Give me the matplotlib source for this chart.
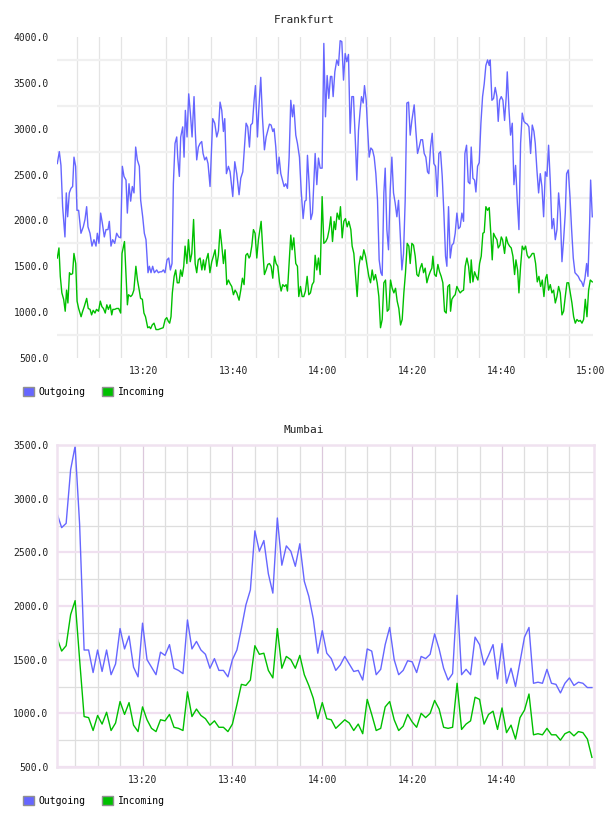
import numpy as np
import matplotlib
matplotlib.use("Agg")
import matplotlib.pyplot as plt
from matplotlib.patches import Patch

# times are minutes after 13:00
fra_out_t = [0.68, 1.13, 1.50, 1.87, 2.39, 2.69, 2.99, 3.36, 3.74, 4.11, 4.41, 4.78, 5.08, 5.45, 5.97,
             6.49, 6.87, 7.24, 7.54, 7.99, 8.43, 8.88, 9.33, 9.63, 10.00, 10.37, 10.75, 11.19, 11.57,
             12.01, 12.31, 12.68, 13.06, 13.51, 13.95, 14.40, 14.85, 15.22, 15.59, 16.04, 16.34, 16.71,
             17.08, 17.45, 17.83, 18.20, 18.57, 19.02, 19.32, 19.77, 20.14, 20.51, 20.96, 21.26, 21.63,
             22.00, 22.38, 22.90, 23.27, 23.65, 24.02, 24.39, 24.76, 25.21, 25.59, 25.96, 26.33, 26.63,
             27.00, 27.38, 27.60, 27.97, 28.27, 28.72, 29.02, 29.31, 29.69, 30.06, 30.43, 30.81, 31.25,
             31.55, 31.85, 32.22, 32.60, 32.97, 33.27, 33.64, 34.01, 34.38, 34.83,
             35.43, 35.88, 36.33, 36.70, 37.07, 37.45, 37.82, 38.12, 38.49, 38.94, 39.31, 39.91, 40.36,
             40.80, 41.32, 41.70, 42.15, 42.52, 42.89, 43.26, 43.64, 43.93, 44.31, 44.68, 44.98, 45.43,
             45.72, 46.17, 46.54, 46.99, 47.37, 47.74, 48.11, 48.48, 48.86, 49.15, 49.53, 49.90, 50.27,
             50.65, 51.02, 51.39, 51.76, 52.14, 52.51, 52.88, 53.26, 53.55, 54.00, 54.37, 54.82, 55.20,
             55.64, 56.02, 56.31, 56.61, 56.98, 57.36, 57.73, 58.03, 58.33, 58.70, 59.07, 59.45, 59.89,
             60.27, 60.64, 61.01, 61.38, 61.76, 62.06, 62.35, 62.73, 63.17, 63.55, 63.92, 64.29, 64.67,
             65.04, 65.41, 65.78, 66.16, 66.53, 66.90, 67.28, 67.65, 68.02, 68.39, 68.69, 69.07, 69.36,
             69.74, 70.03, 70.41, 70.78, 71.15, 71.53, 71.90, 72.27, 72.64, 73.02, 73.32, 73.69, 73.99,
             74.36, 74.73, 75.11, 75.48, 75.85, 76.22, 76.60, 76.97, 77.34, 77.72, 78.09, 78.46, 78.83,
             79.21, 79.58,
             79.95, 80.47, 80.84, 81.22, 81.59, 81.96, 82.34, 82.71, 83.08, 83.45, 83.75, 84.13, 84.50,
             84.87, 85.24, 85.62, 85.99, 86.36, 86.74, 87.11, 87.48, 87.78, 88.15, 88.53, 88.90, 89.27,
             89.64, 90.02, 90.39, 90.76, 91.14, 91.51, 91.81, 92.18, 92.55, 92.93, 93.22, 93.60, 93.97,
             94.27, 94.64, 95.01, 95.39, 95.76, 96.13, 96.50, 96.88, 97.25, 97.47, 97.85, 98.22, 98.59,
             98.97, 99.26, 99.56, 99.94, 100.31, 100.68, 101.05, 101.28, 101.65, 102.02, 102.40, 102.77,
             103.14, 103.52, 103.89, 104.26, 104.63, 105.01, 105.38, 105.75, 106.12, 106.50, 106.87,
             107.24, 107.54, 107.91, 108.29, 108.66, 109.03, 109.41, 109.78, 110.15, 110.52, 110.90,
             111.27, 111.64, 112.02, 112.39, 112.76, 113.13, 113.51, 113.88, 114.25, 114.55, 114.92,
             115.30, 115.67, 116.04, 116.42, 116.79, 117.16, 117.53, 117.91, 118.28, 118.65, 119.03,
             119.32, 119.70, 119.92, 120.29]
fra_out = [2620, 2750, 2600, 2150, 1820, 2300, 2040, 2300, 2350, 2370, 2690, 2590, 2110, 2110, 1860,
           1930, 2010, 2150, 1930, 1860, 1720, 1790, 1720, 1860, 1750, 2080, 1970, 1820, 1900,
           1900, 1990, 1720, 1790, 1750, 1860, 1820, 1810, 2590, 2480, 2440, 2080, 2400,
           2210, 2370, 2300, 2800, 2660, 2590, 2220, 2040, 1860, 1790, 1430, 1500, 1430,
           1500, 1430, 1460, 1430, 1440, 1440, 1460, 1430, 1570, 1590, 1460, 1530, 2400,
           2840, 2910, 2690, 2480, 2910, 3020, 2690, 3200, 2910, 3380, 3170, 2910, 3350,
           2950, 2660, 2800, 2840, 2860, 2730, 2660, 2690, 2620, 2370,
           3110, 3060, 2910, 2980, 3290, 3200, 2970, 3110, 2510, 2590, 2530, 2260, 2640,
           2510, 2280, 2460, 2530, 2800, 3060, 3020, 2800, 3040, 3060, 3310, 3470, 2910,
           3200, 3560, 3130, 2770, 2910, 2980, 3050, 3040, 2970, 3000, 2800, 2510, 2690,
           2510, 2440, 2370, 2400, 2350, 2690, 3310, 3130, 3260, 2930, 2840, 2690, 2330,
           2020, 2210, 2220, 2710, 2400, 2010, 2080, 2400, 2730, 2390, 2680, 2570, 2570,
           3930, 3130, 3580, 3330, 3570, 3570, 3350, 3620, 3750, 3690, 3960, 3950, 3530,
           3820, 3730, 3810, 2950, 3350, 3350, 2910, 2440, 2980, 3200, 3350, 3280, 3470,
           3310, 3020, 2690, 2790, 2770, 2690, 2510, 2220, 1570, 1430, 1400, 2300, 2570,
           1900, 1680, 2330, 2690, 2300, 2190, 2040, 2220, 1860, 1460, 1640, 2220, 3280,
           3290, 2930,
           3090, 3260, 2980, 2730, 2800, 2880, 2880, 2730, 2690, 2530, 2510, 2800, 2950,
           2620, 2590, 2260, 2730, 2750, 2480, 2080, 1610, 1500, 2150, 1590, 1730, 1750,
           1860, 2080, 1910, 1930, 2080, 1990, 2730, 2820, 2420, 2400, 2800, 2460, 2440,
           2310, 2590, 2630, 3060, 3350, 3490, 3690, 3750, 3690, 3750, 3310, 3330, 3450,
           3350, 3080, 3310, 3350, 3310, 3090, 3350, 3620, 3220, 2930, 3060, 2390,
           2600, 2210, 1900, 2840, 3170, 3080, 3060, 3050, 3020, 2730, 3040,
           2970, 2840, 2550, 2300, 2510, 2370, 2040, 2530, 2480, 2820, 2420,
           1910, 2020, 1790, 1900, 2300, 2080, 1550, 1790, 2080, 2510, 2550,
           2260, 1900, 1590, 1430, 1410, 1390, 1350, 1330, 1280, 1370, 1530,
           1390, 1970, 2440, 2040]

fra_in_t = [0.68, 1.05, 1.35, 1.70, 2.10, 2.45, 2.75, 3.05, 3.40, 3.70, 4.10, 4.40, 4.80, 5.10, 5.45,
            6.00, 6.35, 6.70, 7.25, 7.60, 8.00, 8.35, 8.70, 9.10, 9.45, 9.90, 10.30, 10.65, 11.00,
            11.40, 11.75, 12.10, 12.50, 12.85, 13.10, 13.50, 13.95, 14.40, 14.85, 15.15, 15.70, 16.00,
            16.35, 16.60, 17.10, 17.45, 17.80, 18.25, 18.60, 19.00, 19.30, 19.70, 20.05, 20.40, 20.90,
            21.25, 21.55, 21.90, 22.30, 22.75, 23.25, 23.75, 24.35, 24.80, 25.15, 25.50, 25.80, 26.10,
            26.40, 26.80, 27.15, 27.50, 27.90, 28.25, 28.60, 28.95, 29.25, 29.65, 30.00, 30.40, 30.75,
            31.15, 31.50, 31.85, 32.20, 32.60, 33.00, 33.35, 33.65, 34.00, 34.40, 34.80,
            35.21, 35.58, 35.96, 36.33, 36.70, 37.07, 37.45, 37.82, 38.19, 38.57, 38.94, 39.31, 39.68,
            40.06, 40.43, 40.80, 41.32, 41.70, 42.07, 42.44, 42.82, 43.19, 43.56, 43.79, 44.16, 44.53,
            44.90, 45.28, 45.65, 46.25, 46.62, 46.99, 47.37, 47.74, 48.11, 48.48, 48.86, 49.23, 49.60,
            49.98, 50.35, 50.72, 51.09, 51.47, 51.84, 52.14, 52.51, 52.88, 53.18, 53.55, 54.00, 54.37,
            54.67, 55.05, 55.42, 55.79, 56.16, 56.54, 56.91, 57.28, 57.66, 58.03, 58.33, 58.70, 59.07,
            59.45, 59.89, 60.27, 60.71, 61.09, 61.46, 61.83, 62.21, 62.58, 62.88, 63.25, 63.70, 63.99,
            64.37, 64.74, 65.11, 65.49, 65.86, 66.31, 66.60, 66.98, 67.35, 67.72, 68.10, 68.47, 68.84,
            69.21, 69.59, 69.96, 70.33, 70.71, 71.08, 71.45, 71.82, 72.20, 72.57, 72.94, 73.32, 73.69,
            74.06, 74.44, 74.81, 75.18, 75.55, 75.93, 76.30, 76.67, 77.04, 77.42, 77.79, 78.16, 78.53,
            78.91, 79.28, 79.58,
            79.95, 80.32, 80.70, 81.07, 81.44, 81.81, 82.19, 82.56, 82.93, 83.31, 83.68, 84.05, 84.42,
            84.65, 85.02, 85.39, 85.77, 86.14, 86.51, 86.88, 87.26, 87.63, 88.00, 88.38, 88.60, 88.90,
            89.27, 89.64, 90.02, 90.39, 90.76, 91.14, 91.51, 91.88, 92.26, 92.63, 93.00, 93.22, 93.60,
            93.97, 94.34, 94.72, 95.09, 95.46, 95.83, 96.13, 96.50, 96.88, 97.25, 97.62, 97.92, 98.22,
            98.59, 98.97, 99.26, 99.64, 99.94, 100.23, 100.68, 101.05, 101.43, 101.80, 102.17, 102.55,
            102.92, 103.22, 103.59, 103.89, 104.26, 104.63, 105.01, 105.38, 105.75, 106.12, 106.50,
            106.87, 107.24, 107.62, 107.99, 108.36, 108.74, 109.11, 109.48, 109.85, 110.15, 110.52,
            110.90, 111.27, 111.64, 112.02, 112.39, 112.76, 113.13, 113.51, 113.88, 114.25, 114.63,
            115.00, 115.37, 115.74, 116.12, 116.49, 116.86, 117.24, 117.61, 117.98, 118.35, 118.73,
            119.10, 119.47, 119.85, 120.29]
fra_in = [1590, 1700, 1390, 1210, 1140, 1010, 1240, 1100, 1430, 1410, 1420, 1640, 1530, 1120, 1040,
          950, 1010, 1060, 1150, 1040, 1030, 970, 1020, 990, 1030, 1010, 1120, 1060, 1040,
          990, 1080, 1030, 1080, 970, 1030, 1030, 1040, 1040, 990, 1640, 1770, 1460,
          1080, 1190, 1170, 1190, 1240, 1500, 1350, 1240, 1150, 1140, 990, 950, 830,
          840, 820, 860, 880, 810, 810, 820, 830, 920, 940, 900, 880, 950,
          1210, 1390, 1460, 1320, 1320, 1460, 1390, 1500, 1720, 1530, 1790, 1550, 1640,
          2010, 1530, 1430, 1570, 1590, 1460, 1570, 1460, 1570, 1640, 1430,
          1550, 1610, 1680, 1500, 1620, 1900, 1730, 1530, 1680, 1300, 1350, 1310, 1280,
          1190, 1240, 1210, 1130, 1240, 1370, 1300, 1620, 1640, 1590, 1610, 1720, 1900,
          1860, 1590, 1790, 1990, 1680, 1410, 1460, 1520, 1530, 1500, 1370, 1610, 1530,
          1500, 1330, 1230, 1300, 1280, 1300, 1230, 1530, 1840, 1680, 1810, 1530, 1500,
          1170, 1280, 1170, 1170, 1230, 1390, 1190, 1210, 1300, 1330, 1620, 1460, 1590,
          1410, 2260, 1750, 1770, 1810, 1900, 2040, 1770, 1990, 1900, 2080, 2010, 2150,
          1810, 1990, 2020, 1930, 1990, 1900, 1720, 1640, 1410, 1170, 1500, 1610, 1570,
          1680, 1610, 1500, 1390, 1320, 1460, 1350, 1410, 1320, 1170, 830, 920, 1320,
          1350, 1010, 1030, 1350, 1260, 1210, 1260, 1120, 1040, 860, 920, 1210, 1430,
          1750, 1720, 1530,
          1750, 1730, 1610, 1410, 1390, 1480, 1530, 1430, 1480, 1320, 1390, 1440, 1480,
          1610, 1410, 1390, 1520, 1440, 1390, 1320, 1010, 990, 1280, 1300, 1010, 1140,
          1170, 1190, 1280, 1240, 1210, 1230, 1240, 1500, 1590, 1500, 1320, 1570, 1330,
          1440, 1390, 1350, 1530, 1610, 1860, 1870, 2150, 2110, 2140, 1840, 1570, 1860,
          1820, 1790, 1700, 1730, 1820, 1790, 1640, 1820, 1750, 1720, 1700, 1610,
          1410, 1570, 1460, 1210, 1500, 1720, 1680, 1720, 1620, 1590, 1610,
          1640, 1640, 1530, 1330, 1390, 1280, 1350, 1170, 1370, 1410, 1240,
          1300, 1210, 1240, 1100, 1170, 1280, 1210, 970, 1010, 1170, 1320,
          1320, 1210, 1100, 950, 880, 920, 900, 910, 880, 920, 1140,
          950, 1240, 1350, 1330]

# Mumbai: one sample per minute, 13:01 .. 15:00
mum_t = list(range(1, 121))
mum_out = [2860, 2730, 2770, 3270, 3490, 2760, 1590, 1590, 1380, 1590, 1390, 1590, 1360, 1460, 1790,
           1600, 1720, 1430, 1340, 1840, 1500, 1430, 1360, 1570, 1540, 1640, 1420, 1400, 1370, 1870,
           1600, 1670, 1590, 1550, 1420,
           1510, 1400, 1400, 1340, 1500, 1590, 1790, 2010, 2150, 2700, 2510, 2610, 2300, 2120, 2820,
           2380, 2560, 2510, 2370, 2580, 2230, 2090, 1880, 1560, 1770, 1560, 1510, 1400, 1450, 1530,
           1460, 1390, 1400, 1310, 1600, 1580, 1360, 1410, 1640, 1800, 1500, 1360, 1400, 1490,
           1480, 1380, 1530, 1510, 1550, 1740, 1600, 1420, 1310, 1370, 2100, 1360, 1410, 1360, 1710,
           1640, 1450, 1540, 1640, 1320, 1650, 1280, 1420, 1250, 1480, 1710, 1800, 1280, 1290, 1280,
           1410, 1280, 1270, 1190, 1280, 1330, 1260, 1290, 1280, 1240, 1240]
mum_in = [1700, 1580, 1630, 1920, 2050, 1500, 970, 960, 840, 980, 900, 1010, 840, 910, 1110,
          990, 1100, 890, 830, 1060, 940, 860, 830, 940, 930, 990, 870, 860, 840, 1200,
          970, 1040, 980, 950, 890,
          930, 870, 870, 830, 900, 1080, 1270, 1260, 1310, 1630, 1550, 1560, 1400, 1330, 1790,
          1420, 1530, 1500, 1420, 1540, 1360, 1260, 1140, 950, 1100, 950, 940, 860, 900, 940,
          910, 840, 900, 810, 1130, 990, 840, 860, 1060, 1110, 940, 840, 880, 990,
          920, 870, 1000, 960, 1000, 1120, 1040, 870, 860, 870, 1280, 850, 900, 930, 1150,
          1130, 900, 990, 1020, 850, 1050, 820, 890, 760, 960, 1030, 1180, 800, 810, 800,
          860, 800, 800, 750, 810, 830, 790, 830, 820, 760, 590]

OUT_C = '#6666ff'
IN_C = '#00c000'
FONT = 'DejaVu Sans Mono'


def hhmm(m):
    return f"{13 + m // 60}:{m % 60:02d}"


def add_legend(fig, y):
    handles = [Patch(facecolor=OUT_C, edgecolor='#909090', linewidth=1.0),
               Patch(facecolor=IN_C, edgecolor='#909090', linewidth=1.0)]
    fig.legend(handles, ['Outgoing', 'Incoming'], loc='center left',
               bbox_to_anchor=(0.038, y), ncol=2, frameon=False,
               handlelength=1.1, handleheight=1.1, handletextpad=0.5,
               columnspacing=1.7, borderpad=0, borderaxespad=0,
               prop={'family': FONT, 'size': 7})


fig = plt.figure(figsize=(6.08, 8.16), dpi=100)

# ---- Frankfurt ----
ax1 = fig.add_axes([57.3 / 608, 1 - 358 / 816, 535.7 / 608, 321 / 816])
ax1.plot(fra_out_t, fra_out, color=OUT_C, lw=1.0)
ax1.plot(fra_in_t, fra_in, color=IN_C, lw=1.0)
ax1.set_xlim(0.68, 120.45)
ax1.set_ylim(500, 4000)
ax1.set_yticks(np.arange(500, 4001, 500))
ax1.set_yticklabels([f"{v:.1f}" for v in np.arange(500, 4001, 500)])
ax1.set_yticks(np.arange(750, 3751, 500), minor=True)
ax1.set_xticks([20, 40, 60, 80, 100, 120])
ax1.set_xticklabels([hhmm(m) for m in [20, 40, 60, 80, 100, 120]])
ax1.set_xticks(np.arange(5, 121, 5), minor=True)
ax1.grid(False)
ax1.grid(True, which='minor', axis='y', color='#f0f0f0', lw=1.6)
ax1.grid(True, which='minor', axis='x', color='#e4e4e4', lw=0.9)
ax1.set_axisbelow(True)
for s in ax1.spines.values():
    s.set_visible(False)
ax1.tick_params(which='both', length=0, labelsize=7, colors='#222222', pad=6)
fig.text(0.5, 1 - 20 / 816, 'Frankfurt', ha='center', va='center',
         family=FONT, fontsize=8, color='#222222')
add_legend(fig, 1 - 392 / 816)

# ---- Mumbai ----
ax2 = fig.add_axes([56.7 / 608, 1 - 767 / 816, 537 / 608, 322 / 816])
ax2.plot(mum_t, mum_out, color=OUT_C, lw=1.0)
ax2.plot(mum_t, mum_in, color=IN_C, lw=1.0)
ax2.set_xlim(0.9, 120.4)
ax2.set_ylim(500, 3500)
ax2.set_yticks(np.arange(500, 3501, 500))
ax2.set_yticklabels([f"{v:.1f}" for v in np.arange(500, 3501, 500)])
ax2.set_yticks(np.arange(750, 3251, 500), minor=True)
ax2.set_xticks([20, 40, 60, 80, 100])
ax2.set_xticklabels([hhmm(m) for m in [20, 40, 60, 80, 100]])
ax2.set_xticks([m for m in range(5, 120, 5) if m % 20], minor=True)
ax2.grid(True, which='major', axis='x', color='#dcc8dc', lw=0.9)
ax2.grid(True, which='major', axis='y', color='#f0e0f0', lw=1.6)
ax2.grid(True, which='minor', color='#dedede', lw=0.9)
ax2.set_axisbelow(True)
for s in ax2.spines.values():
    s.set_color('#f0e2f0')
    s.set_linewidth(1.8)
ax2.tick_params(which='both', length=0, labelsize=7, colors='#222222', pad=6)
fig.text(0.5, 1 - 430 / 816, 'Mumbai', ha='center', va='center',
         family=FONT, fontsize=8, color='#222222')
add_legend(fig, 1 - 800.7 / 816)

for ax in (ax1, ax2):
    for lab in ax.get_xticklabels() + ax.get_yticklabels():
        lab.set_family(FONT)

fig.savefig('out.png', dpi=100)
